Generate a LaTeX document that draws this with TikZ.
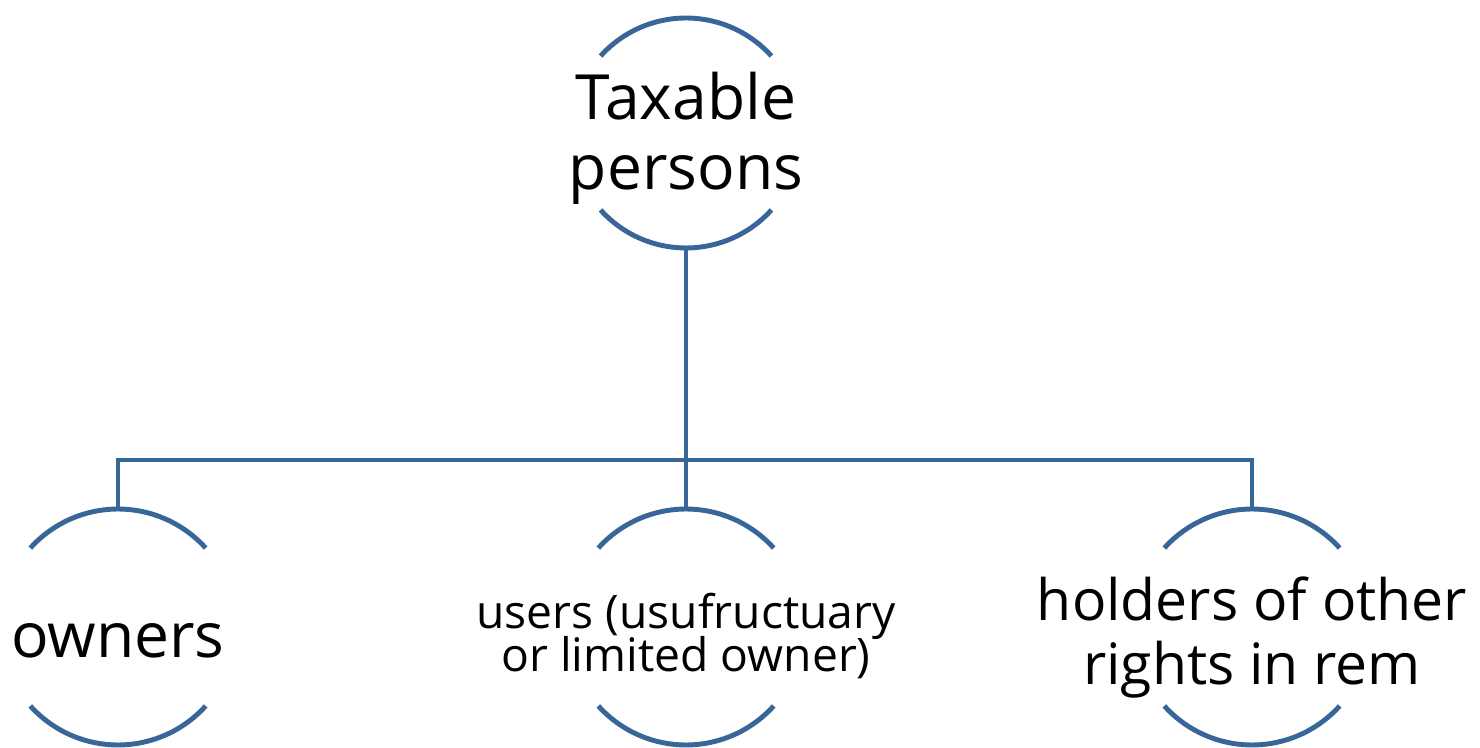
\documentclass[tikz,border=0pt]{standalone}
\usepackage{fontspec}
\setmainfont{Open Sans}
\usepackage{tikz}
\usetikzlibrary{calc}

\definecolor{arcblue}{RGB}{56,102,153}
\newcommand\bubblearcs[2]{%
  \draw[link] (#1) ++(42:#2) arc[start angle=42, end angle=138, radius=#2];
  \draw[link] (#1) ++(222:#2) arc[start angle=222, end angle=318, radius=#2];}

\begin{document}
\begin{tikzpicture}[x=0.02cm, y=0.02cm,
  link/.style={draw=arcblue, line width=2.8pt},
  big/.style={align=center, font=\fontsize{35.5}{40}\selectfont},
  wide/.style={align=center, font=\fontsize{32.5}{36.5}\selectfont},
  small/.style={align=center, font=\fontsize{26.3}{24}\selectfont}]
\useasboundingbox (0,0) rectangle (1480,747);

% circle centres
\coordinate (tax-c) at (686,614);
\coordinate (own-c) at (118,120);
\coordinate (use-c) at (686,120);
\coordinate (rem-c) at (1252,120);

\node[big] (tax) at ([yshift=-3]tax-c) {Taxable\\persons};
\node[big] (own) at ([yshift=-8]own-c) {owners};
\node[small] (use) at ([yshift=-5]use-c) {users (usufructuary\\[-3pt]or limited owner)};
\node[wide] (rem) at ([yshift=-6]rem-c) {holders of other\\rights in rem};

\bubblearcs{tax-c}{2.3cm}
\bubblearcs{own-c}{2.36cm}
\bubblearcs{use-c}{2.36cm}
\bubblearcs{rem-c}{2.36cm}

\coordinate (tax-s) at ($(tax-c)+(0,-2.3cm)$);
\coordinate (own-n) at ($(own-c)+(0,2.36cm)$);
\coordinate (use-n) at ($(use-c)+(0,2.36cm)$);
\coordinate (rem-n) at ($(rem-c)+(0,2.36cm)$);
\coordinate (bar) at (686,287);

\draw[link] (tax-s) -- (use-n);
\draw[link] (own-n) |- (bar) -| (rem-n);
\end{tikzpicture}
\end{document}
